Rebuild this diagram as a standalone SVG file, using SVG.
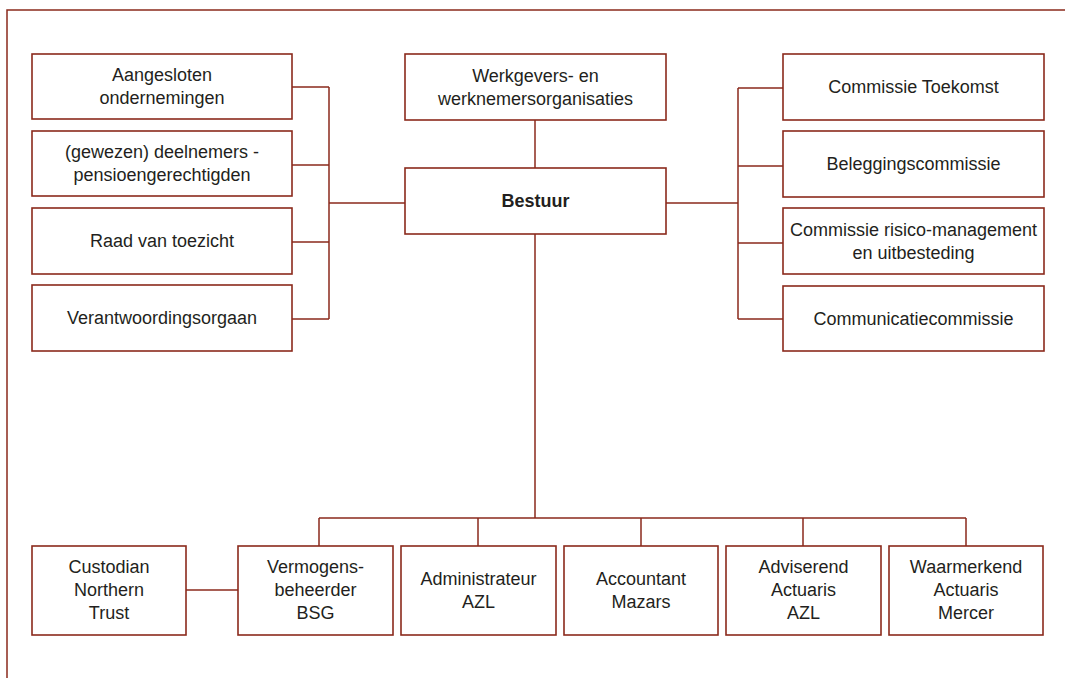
<svg xmlns="http://www.w3.org/2000/svg" width="1065" height="678" viewBox="0 0 1065 678">
<style>
.box{fill:#fff;stroke:#8b2a1c;stroke-width:1.6}
.ln{fill:none;stroke:#8b2a1c;stroke-width:1.5}
text{font-family:"Liberation Sans",Arial,sans-serif;font-size:18px;fill:#231f20;text-anchor:middle;dominant-baseline:central}
.b{font-weight:bold}
</style>
<rect width="1065" height="678" fill="#fff"/>
<path class="ln" d="M7,678 V10 H1065"/>
<g id="connectors">
<path class="ln" d="M292,87 H329 M292,165 H329 M292,242 H329 M292,319 H329 M329,87 V319 M329,203 H405"/>
<path class="ln" d="M535,120 V168"/>
<path class="ln" d="M666,203 H738 M738,88 V319 M738,88 H783 M738,166 H783 M738,243 H783 M738,319 H783"/>
<path class="ln" d="M535,234 V518 M319,518 H966 M319,518 V546 M478,518 V546 M641,518 V546 M803,518 V546 M966,518 V546"/>
<path class="ln" d="M186,590 H238"/>
</g>
<g id="n-aangesloten"><rect class="box" x="32" y="54" width="260" height="65"/><text x="162" y="75">Aangesloten</text><text x="162" y="98">ondernemingen</text></g>
<g id="n-deelnemers"><rect class="box" x="32" y="131" width="260" height="65"/><text x="162" y="152">(gewezen) deelnemers -</text><text x="162" y="175">pensioengerechtigden</text></g>
<g id="n-raad"><rect class="box" x="32" y="208" width="260" height="66"/><text x="162" y="241">Raad van toezicht</text></g>
<g id="n-verantwoordingsorgaan"><rect class="box" x="32" y="285" width="260" height="66"/><text x="162" y="318">Verantwoordingsorgaan</text></g>
<g id="n-werkgevers"><rect class="box" x="405" y="54" width="261" height="66"/><text x="535.5" y="75.5">Werkgevers- en</text><text x="535.5" y="98.5">werknemersorganisaties</text></g>
<g id="n-bestuur"><rect class="box" x="405" y="168" width="261" height="66"/><text class="b" x="535.5" y="201">Bestuur</text></g>
<g id="n-toekomst"><rect class="box" x="783" y="54" width="261" height="66"/><text x="913.5" y="87">Commissie Toekomst</text></g>
<g id="n-belegging"><rect class="box" x="783" y="131" width="261" height="66"/><text x="913.5" y="164">Beleggingscommissie</text></g>
<g id="n-risico"><rect class="box" x="783" y="208" width="261" height="66"/><text x="913.5" y="229.5">Commissie risico-management</text><text x="913.5" y="252.5">en uitbesteding</text></g>
<g id="n-communicatie"><rect class="box" x="783" y="286" width="261" height="65"/><text x="913.5" y="318.5">Communicatiecommissie</text></g>
<g id="n-custodian"><rect class="box" x="32" y="546" width="154" height="89"/><text x="109" y="567">Custodian</text><text x="109" y="590">Northern</text><text x="109" y="613">Trust</text></g>
<g id="n-vermogens"><rect class="box" x="238" y="546" width="155" height="89"/><text x="315.5" y="567">Vermogens-</text><text x="315.5" y="590">beheerder</text><text x="315.5" y="613">BSG</text></g>
<g id="n-administrateur"><rect class="box" x="401" y="546" width="155" height="89"/><text x="478.5" y="579">Administrateur</text><text x="478.5" y="602">AZL</text></g>
<g id="n-accountant"><rect class="box" x="564" y="546" width="154" height="89"/><text x="641" y="579">Accountant</text><text x="641" y="602">Mazars</text></g>
<g id="n-adviserend"><rect class="box" x="726" y="546" width="155" height="89"/><text x="803.5" y="567">Adviserend</text><text x="803.5" y="590">Actuaris</text><text x="803.5" y="613">AZL</text></g>
<g id="n-waarmerkend"><rect class="box" x="889" y="546" width="154" height="89"/><text x="966" y="567">Waarmerkend</text><text x="966" y="590">Actuaris</text><text x="966" y="613">Mercer</text></g>
</svg>
